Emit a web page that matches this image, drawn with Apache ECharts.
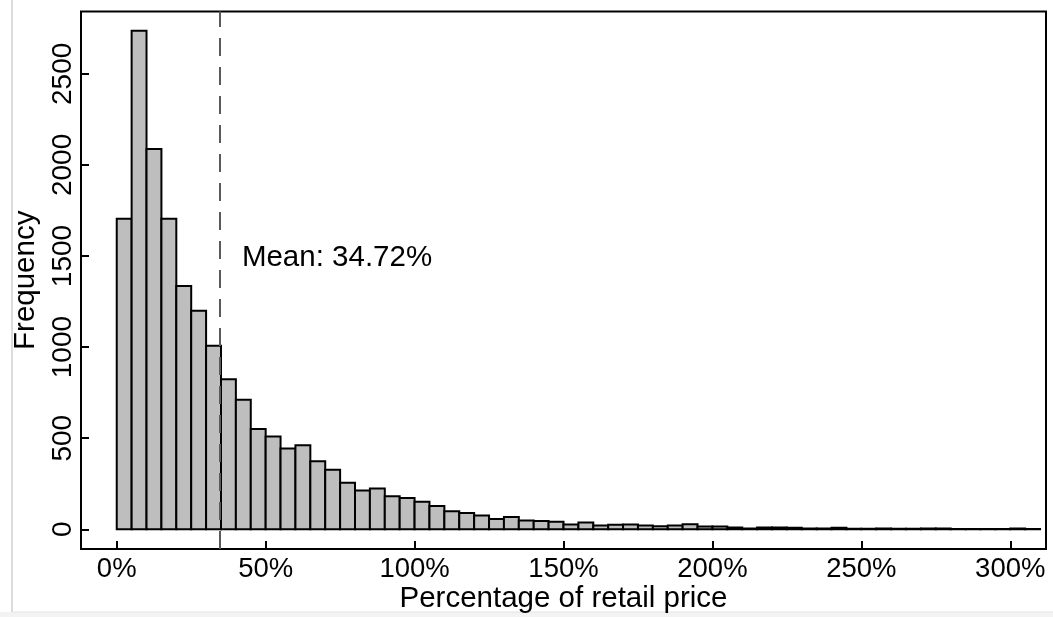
<!DOCTYPE html>
<html>
<head>
<meta charset="utf-8">
<script src="https://cdn.jsdelivr.net/npm/echarts@6/dist/echarts.min.js"></script>
<style>
html,body{margin:0;padding:0;background:#fff;}
#chart{width:1053px;height:617px;}
</style>
</head>
<body>
<div id="chart"></div>
<script>
// Bin edges (percentage of retail price), 5% wide
const binStart = [0,5,10,15,20,25,30,35,40,45,50,55,60,65,70,75,80,85,90,95,
  100,105,110,115,120,125,130,135,140,145,150,155,160,165,170,175,180,185,190,195,
  200,205,210,215,220,225,230,235,240,245,250,255,260,265,270,275,280,285,290,295,
  300,305];
const binWidth = 5;
// Frequencies
const frequency = [1705,2736,2088,1705,1336,1199,1007,824,711,550,
  509,444,462,374,327,256,213,224,182,172,
  151,128,99,89,76,56,67,48,46,41,
  26,37,21,25,26,21,17,21,28,15,
  15,10,5,10,10,8,5,5,8,3,
  3,5,3,3,5,5,2,2,2,2,
  5,2];
const xTickValues = [0,50,100,150,200,250,300];
const xTickLabels = ['0%','50%','100%','150%','200%','250%','300%'];
const yTickValues = [0,500,1000,1500,2000,2500];
const yTickLabels = ['0','500','1000','1500','2000','2500'];
const meanValue = 34.72;
const meanText = 'Mean: 34.72%';

const FONT = "'Liberation Sans', Arial, Helvetica, sans-serif";
const histData = binStart.map((s, i) => [s, s + binWidth, frequency[i]]);

const chart = echarts.init(document.getElementById('chart'), null, {renderer: 'canvas'});
chart.setOption({
  animation: false,
  backgroundColor: '#ffffff',
  graphic: [
    {type: 'rect', silent: true, z: -10, shape: {x: 0, y: 612, width: 1053, height: 5}, style: {fill: '#f3f3f3'}},
    {type: 'line', silent: true, z: -10, shape: {x1: 12, y1: 0, x2: 12, y2: 612}, style: {stroke: '#dcdcdc', lineWidth: 2}},
    {type: 'line', silent: true, z: -10, shape: {x1: 12, y1: 612, x2: 1053, y2: 612}, style: {stroke: '#e4e4e4', lineWidth: 1}}
  ],
  grid: {
    left: 81, right: 7, top: 11.5, bottom: 68,
    containLabel: false,
    outerBoundsMode: 'none',
    show: true, borderColor: '#000', borderWidth: 2, backgroundColor: 'transparent'
  },
  xAxis: {
    type: 'value', min: -12, max: 312,
    name: 'Percentage of retail price',
    nameLocation: 'middle', nameGap: 35, nameMoveOverlap: false,
    nameTextStyle: {fontFamily: FONT, fontSize: 29.5, color: '#000'},
    axisLine: {show: false, onZero: false},
    axisTick: {show: true, inside: true, length: 8, lineStyle: {color: '#000', width: 2}, customValues: xTickValues},
    axisLabel: {
      show: true, margin: 6, fontFamily: FONT, fontSize: 27.5, color: '#000',
      customValues: xTickValues,
      formatter: v => xTickLabels[xTickValues.indexOf(v)]
    },
    splitLine: {show: false}
  },
  yAxis: {
    type: 'value', min: -108, max: 2842,
    name: 'Frequency',
    nameLocation: 'middle', nameGap: 40, nameRotate: 90, nameMoveOverlap: false,
    nameTextStyle: {fontFamily: FONT, fontSize: 29.5, color: '#000'},
    axisLine: {show: false, onZero: false},
    axisTick: {show: true, inside: true, length: 8, lineStyle: {color: '#000', width: 2}, customValues: yTickValues},
    axisLabel: {
      show: true, rotate: 90, margin: 4, fontFamily: FONT, fontSize: 28, color: '#000',
      customValues: yTickValues,
      formatter: v => yTickLabels[yTickValues.indexOf(v)]
    },
    splitLine: {show: false}
  },
  series: [
    {
      type: 'custom',
      name: 'Frequency',
      data: histData,
      encode: {x: [0, 1], y: 2},
      clip: true,
      renderItem: function (params, api) {
        const x0 = api.value(0), x1 = api.value(1), v = api.value(2);
        const p0 = api.coord([x0, v]);
        const p1 = api.coord([x1, 0]);
        return {
          type: 'rect',
          shape: {x: p0[0], y: p0[1], width: p1[0] - p0[0], height: p1[1] - p0[1]},
          style: {fill: '#bebebe', stroke: '#000', lineWidth: 2}
        };
      },
      z: 2
    },
    {
      type: 'line',
      data: [],
      z: 3,
      markLine: {
        silent: true,
        symbol: ['none', 'none'],
        label: {show: false},
        lineStyle: {color: '#5a5a5a', width: 2, type: [18, 11]},
        data: [{xAxis: meanValue}]
      },
      markPoint: {
        silent: true,
        symbol: 'circle',
        symbolSize: 0,
        label: {
          show: true, position: 'right', distance: 0,
          formatter: meanText,
          fontFamily: FONT, fontSize: 29.5, color: '#000'
        },
        data: [{coord: [meanValue + 7.3, 1490]}]
      }
    }
  ]
});
</script>
</body>
</html>
